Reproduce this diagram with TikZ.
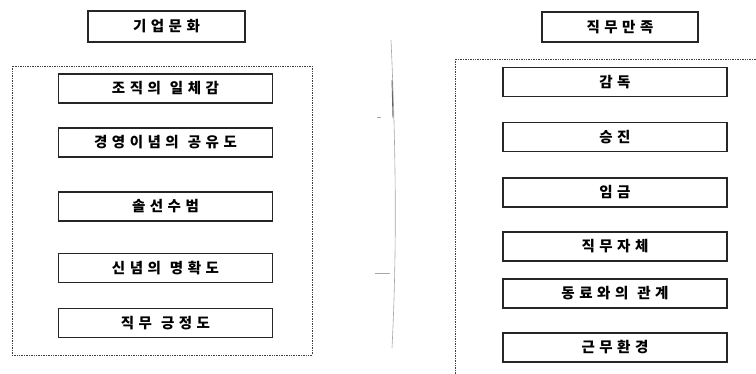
\documentclass[tikz,border=0pt]{standalone}
\usepackage{fontspec}
\newfontfamily\kr{Noto Sans CJK KR}
\newcommand\g{\hspace{4.5pt}}
\newcommand\wg{\hspace{9pt}}
\tikzset{
  itembox/.style={draw=black!85, line width=1.3pt, minimum height=29pt, inner sep=0pt,
    font=\kr\bfseries\fontsize{14.5}{16}\selectfont},
  framebox/.style={draw=black!75, line width=0.7pt, densely dotted},
  faint/.style={draw=black!35, line width=0.6pt}
}
\begin{document}
\begin{tikzpicture}[x=1pt,y=-1pt]
\useasboundingbox (0,0) rectangle (756,374);
% left column
\node[itembox, minimum width=157pt, minimum height=31pt] (t1) at (166.5,26.5) {기\g 업\g 문\g 화};
\node[framebox, minimum width=300pt, minimum height=289pt, inner sep=0pt] (f1) at (162,210.5) {};
\node[itembox, minimum width=214pt] (a1) at (165.5,88.5) {조\g 직\g 의\wg 일\g 체\g 감};
\node[itembox, minimum width=214pt] (a2) at (165.5,142.5) {경\g 영\g 이\g 념\g 의\wg 공\g 유\g 도};
\node[itembox, minimum width=214pt] (a3) at (165.5,206.5) {솔\g 선\g 수\g 범};
\node[itembox, minimum width=214pt] (a4) at (165.5,268) {신\g 념\g 의\wg 명\g 확\g 도};
\node[itembox, minimum width=214pt] (a5) at (165.5,323) {직\g 무\wg 긍\g 정\g 도};
% right column
\node[itembox, minimum width=156pt, minimum height=30pt] (t2) at (620,27) {직\g 무\g 만\g 족\hspace{56pt}};
\coordinate (f2a) at (756,59);
\coordinate (f2b) at (455,59);
\coordinate (f2c) at (455,374);
\draw[framebox] (f2a) -- (f2b) -- (f2c);
\node[itembox, minimum width=224pt] (b1) at (615,82) {감\g 독};
\node[itembox, minimum width=224pt] (b2) at (615,137) {승\g 진};
\node[itembox, minimum width=224pt] (b3) at (615,192.5) {임\g 금};
\node[itembox, minimum width=224pt] (b4) at (615,246.5) {직\g 무\g 자\g 체};
\node[itembox, minimum width=224pt] (b5) at (615,293.5) {동\g 료\g 와\g 의\wg 관\g 계};
\node[itembox, minimum width=224pt] (b6) at (615,347.5) {근\g 무\g 환\g 경};
% faint middle mark
\coordinate (m1) at (391,40);
\coordinate (m2) at (392,348);
\draw[faint] (m1) .. controls (396,150) and (397,250) .. (m2);
\draw[black!60, line width=0.9pt] (392,80) -- (393,118);
\coordinate (k1) at (377,117);
\coordinate (k2) at (381,117);
\draw[faint] (k1) -- (k2);
\coordinate (k3) at (375,273);
\coordinate (k4) at (390,273);
\draw[faint] (k3) -- (k4);
\end{tikzpicture}
\end{document}
